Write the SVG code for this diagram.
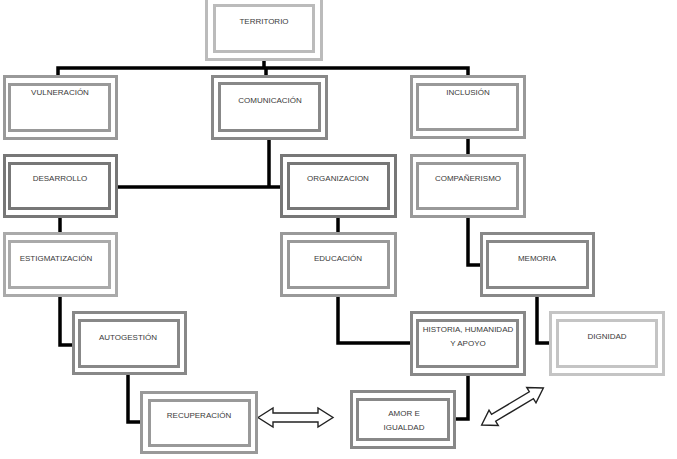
<svg xmlns="http://www.w3.org/2000/svg" width="677" height="459" viewBox="0 0 677 459">
<style>
  .o{fill:none;stroke-width:3}
  .i{fill:#fff;stroke-width:3}
  .t{font-family:"Liberation Sans",Arial,sans-serif;font-size:8px;fill:#3a3a3a;stroke:none;text-anchor:middle}
  .c{fill:none;stroke:#000;stroke-width:3.5;stroke-linejoin:miter}
  .a{fill:#fff;stroke:#222;stroke-width:1.4;stroke-linejoin:miter}
</style>
<rect width="677" height="459" fill="#fff"/>
<g id="connectors">
  <path class="c" d="M264,61V68M58,76V68H468V76M266,68V76"/>
  <path class="c" d="M269,140V187M118,187H281"/>
  <path class="c" d="M468,139V155"/>
  <path class="c" d="M60,218V233"/>
  <path class="c" d="M338,218V233"/>
  <path class="c" d="M60,297V345H73"/>
  <path class="c" d="M338,297V343H411"/>
  <path class="c" d="M468,218V265H481"/>
  <path class="c" d="M537,297V343H550"/>
  <path class="c" d="M128,375V422H141"/>
  <path class="c" d="M468,376V419H456"/>
  <path class="a" d="M-37.5,0L-22.5,-9.5L-22.5,-4.5L22.5,-4.5L22.5,-9.5L37.5,0L22.5,9.5L22.5,4.5L-22.5,4.5L-22.5,9.5Z" transform="translate(295.5,417.5)"/>
  <path class="a" d="M-36,0L-22,-9L-22,-4L22,-4L22,-9L36,0L22,9L22,4L-22,4L-22,9Z" transform="translate(512.5,406.5) rotate(-31)"/>
</g>
<g id="territorio" stroke="#bbb">
  <rect class="o" x="206.5" y="-5" width="115" height="64.5"/>
  <rect class="i" x="214.5" y="5.5" width="99" height="46"/>
  <text class="t" x="264" y="24">TERRITORIO</text>
</g>
<g id="vulneracion" stroke="#999">
  <rect class="o" x="4.5" y="76.5" width="112" height="62"/>
  <rect class="i" x="9.5" y="84.5" width="100" height="46"/>
  <text class="t" x="60" y="95">VULNERACIÓN</text>
</g>
<g id="comunicacion" stroke="#888">
  <rect class="o" x="212.5" y="76.5" width="114" height="62"/>
  <rect class="i" x="219.5" y="83.5" width="100" height="47"/>
  <text class="t" x="270" y="103">COMUNICACIÓN</text>
</g>
<g id="inclusion" stroke="#999">
  <rect class="o" x="411.5" y="76.5" width="113" height="61"/>
  <rect class="i" x="417.5" y="84.5" width="100" height="45"/>
  <text class="t" x="468" y="95">INCLUSIÓN</text>
</g>
<g id="desarrollo" stroke="#777">
  <rect class="o" x="4.5" y="155.5" width="112" height="61"/>
  <rect class="i" x="9.5" y="163.5" width="100" height="45"/>
  <text class="t" x="60" y="181">DESARROLLO</text>
</g>
<g id="organizacion" stroke="#777">
  <rect class="o" x="281.5" y="155.5" width="114" height="61"/>
  <rect class="i" x="288.5" y="163.5" width="100" height="45"/>
  <text class="t" x="338" y="181">ORGANIZACION</text>
</g>
<g id="companerismo" stroke="#999">
  <rect class="o" x="411.5" y="155.5" width="113" height="61"/>
  <rect class="i" x="417.5" y="163.5" width="100" height="45"/>
  <text class="t" x="468" y="181">COMPAÑERISMO</text>
</g>
<g id="estigmatizacion" stroke="#aaa">
  <rect class="o" x="4.5" y="233.5" width="112" height="62"/>
  <rect class="i" x="9.5" y="241.5" width="100" height="46"/>
  <text class="t" x="56" y="261">ESTIGMATIZACIÓN</text>
</g>
<g id="educacion" stroke="#999">
  <rect class="o" x="281.5" y="233.5" width="114" height="62"/>
  <rect class="i" x="288.5" y="241.5" width="100" height="46"/>
  <text class="t" x="338" y="261">EDUCACIÓN</text>
</g>
<g id="memoria" stroke="#888">
  <rect class="o" x="481.5" y="233.5" width="112" height="62"/>
  <rect class="i" x="487.5" y="241.5" width="100" height="46"/>
  <text class="t" x="537" y="261">MEMORIA</text>
</g>
<g id="autogestion" stroke="#888">
  <rect class="o" x="73.5" y="312.5" width="112" height="61"/>
  <rect class="i" x="79.5" y="320.5" width="99" height="46"/>
  <text class="t" x="128" y="340">AUTOGESTIÓN</text>
</g>
<g id="historia" stroke="#888">
  <rect class="o" x="411.5" y="312.5" width="113" height="62"/>
  <rect class="i" x="417.5" y="320.5" width="100" height="46"/>
  <text class="t" x="468" y="332">HISTORIA, HUMANIDAD</text>
  <text class="t" x="468" y="346">Y APOYO</text>
</g>
<g id="dignidad" stroke="#c4c4c4">
  <rect class="o" x="550.5" y="312.5" width="113" height="62"/>
  <rect class="i" x="557.5" y="320.5" width="99" height="46"/>
  <text class="t" x="607" y="339">DIGNIDAD</text>
</g>
<g id="recuperacion" stroke="#999">
  <rect class="o" x="141.5" y="392.5" width="115" height="60"/>
  <rect class="i" x="149.5" y="400.5" width="100" height="45"/>
  <text class="t" x="199" y="418">RECUPERACIÓN</text>
</g>
<g id="amor" stroke="#888">
  <rect class="o" x="351.5" y="391.5" width="103" height="56"/>
  <rect class="i" x="357.5" y="399.5" width="91" height="40"/>
  <text class="t" x="404" y="416">AMOR E</text>
  <text class="t" x="404" y="430">IGUALDAD</text>
</g>
</svg>
